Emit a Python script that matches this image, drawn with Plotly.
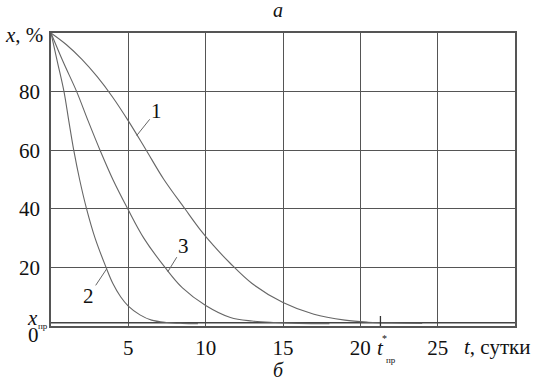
import plotly.graph_objects as go

# ---- data ----
t1 = [0, 1, 2, 3, 4, 5, 6.1, 7.3, 8.66, 9.63, 10.5, 11.57, 13, 15, 17, 19, 20.5, 22, 24]
x1 = [100, 96, 91, 85, 78, 70, 60.5, 50, 40, 33, 27.5, 21.5, 14.5, 8, 4, 2, 1.3, 1.0, 0.9]

t2 = [0, 0.42, 0.84, 1.15, 1.47, 1.85, 2.3, 2.85, 3.56, 4.0, 4.5, 5.0, 5.75, 6.5, 7.5, 8.5, 9.5]
x2 = [100, 90, 80, 70, 60, 50, 40, 30, 20, 14.5, 10, 6.8, 3.8, 2.0, 1.2, 0.9, 0.8]

t3 = [0, 0.8, 1.66, 2.4, 3.17, 4.0, 4.96, 6.0, 7.37, 8.5, 10, 11.6, 13, 14.5, 16, 18]
x3 = [100, 90, 80, 70, 60, 50, 40, 30, 20, 13, 7.0, 2.9, 1.7, 1.2, 0.9, 0.8]

XPR = 1.1          # x_пр level, %
T_STAR = 21.3      # t*_пр, сутки
T_RANGE = [0, 30]
X_RANGE = [0, 100]
x_ticks = [5, 10, 15, 20, 25]
y_ticks = [20, 40, 60, 80]

# curve label anchors: (t on curve, value on curve, label)
labels = [(5.54, 65, "1"), (3.6, 19.5, "2"), (7.55, 18.5, "3")]
label_offsets = [(20, -25), (-18, 27), (16, -26)]

FONT = "Liberation Serif"
GRID = "#555555"
CURVE = "#666666"

W, H = 535, 381
L, R, T, B = 51, 20, 33, 55
PW, PH = W - L - R, H - T - B


def px(xp):
    return (xp - L) / PW


def py(yp):
    return (H - B - yp) / PH


fig = go.Figure()

# x_пр line
fig.add_trace(go.Scatter(x=T_RANGE, y=[XPR, XPR], mode="lines",
                         line=dict(color="#444444", width=1.5), hoverinfo="skip"))

for tt, xx in [(t1, x1), (t2, x2), (t3, x3)]:
    fig.add_trace(go.Scatter(x=tt, y=xx, mode="lines",
                             line=dict(color=CURVE, width=1.1, shape="spline", smoothing=1.0),
                             hoverinfo="skip"))

# t*_пр tick mark
fig.add_trace(go.Scatter(x=[T_STAR], y=[XPR + 0.4], mode="markers",
                         marker=dict(symbol="line-ns", size=8,
                                     line=dict(color="#333333", width=1.3)),
                         hoverinfo="skip"))

annotations = []
for (tc, vc, txt), (ax, ay) in zip(labels, label_offsets):
    annotations.append(dict(x=tc, y=vc, xref="x", yref="y", text=txt,
                            showarrow=True, arrowhead=0, arrowwidth=1, arrowcolor=CURVE,
                            ax=ax, ay=ay, standoff=0, startstandoff=0,
                            font=dict(family=FONT, size=21, color="#111111")))

def ann(xp, yp, text, size=21, xanchor="center", yanchor="middle"):
    annotations.append(dict(x=px(xp), y=py(yp), xref="paper", yref="paper", text=text,
                            showarrow=False, xanchor=xanchor, yanchor=yanchor,
                            font=dict(family=FONT, size=size, color="#111111")))

ann(278, 10, "<i>а</i>", size=20)
ann(278, 370, "<i>б</i>", size=20)
ann(3, 35, "<i>x</i>, %", size=21, xanchor="left")
ann(497, 347, "<i>t</i>, сутки", size=21)
ann(33, 335, "0", size=21)
ann(32, 318, "<i>x</i>", size=21)
ann(43, 326, "пр", size=9)
ann(380, 348, "<i>t</i>", size=21)
ann(384, 338, "*", size=10)
ann(391, 360, "пр", size=9)

fig.update_layout(
    width=W, height=H,
    margin=dict(l=L, r=R, t=T, b=B, pad=0),
    paper_bgcolor="white", plot_bgcolor="white",
    showlegend=False,
    font=dict(family=FONT, size=21, color="#111111"),
    annotations=annotations,
    xaxis=dict(range=T_RANGE, tickvals=x_ticks, ticktext=[str(v) for v in x_ticks],
               showgrid=True, gridcolor=GRID, gridwidth=1.4, zeroline=False,
               showline=True, mirror=True, linecolor=GRID, linewidth=1.5,
               ticks="", ticklabelstandoff=2,
               tickfont=dict(family=FONT, size=21, color="#111111")),
    yaxis=dict(range=X_RANGE, tickvals=y_ticks, ticktext=[str(v) for v in y_ticks],
               showgrid=True, gridcolor=GRID, gridwidth=1.4, zeroline=False,
               showline=True, mirror=True, linecolor=GRID, linewidth=1.5,
               ticks="", ticklabelstandoff=5,
               tickfont=dict(family=FONT, size=21, color="#111111")),
)

fig.write_html("out.html", config={"displayModeBar": False},
               post_script="document.body.style.margin='0';document.body.style.padding='0';")
